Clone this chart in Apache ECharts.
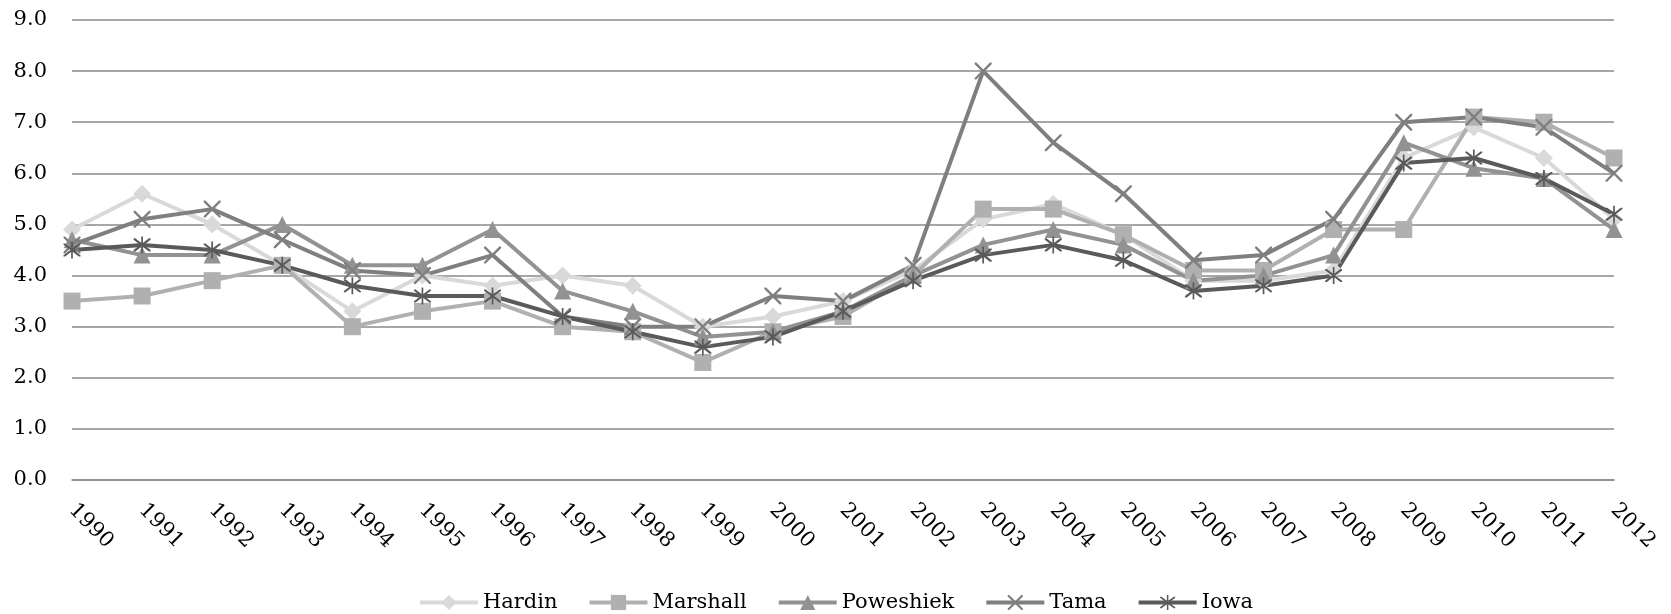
<!DOCTYPE html>
<html><head><meta charset="utf-8">
<script src="https://cdn.jsdelivr.net/npm/echarts@6/dist/echarts.min.js"></script>
<style>html,body{margin:0;padding:0;background:#fff}#c{width:1671px;height:614px}</style>
</head><body><div id="c"></div>
<script>
const years = ['1990','1991','1992','1993','1994','1995','1996','1997','1998','1999','2000','2001','2002','2003','2004','2005','2006','2007','2008','2009','2010','2011','2012'];
const hardin    = [4.9,5.6,5.0,4.2,3.3,4.0,3.8,4.0,3.8,3.0,3.2,3.5,4.1,5.1,5.4,4.8,3.9,3.9,4.1,6.3,6.9,6.3,5.1];
const marshall  = [3.5,3.6,3.9,4.2,3.0,3.3,3.5,3.0,2.9,2.3,2.9,3.2,4.0,5.3,5.3,4.8,4.1,4.1,4.9,4.9,7.1,7.0,6.3];
const poweshiek = [4.7,4.4,4.4,5.0,4.2,4.2,4.9,3.7,3.3,2.8,2.9,3.3,4.0,4.6,4.9,4.6,3.9,4.0,4.4,6.6,6.1,5.9,4.9];
const tama      = [4.6,5.1,5.3,4.7,4.1,4.0,4.4,3.2,3.0,3.0,3.6,3.5,4.2,8.0,6.6,5.6,4.3,4.4,5.1,7.0,7.1,6.9,6.0];
const iowa      = [4.5,4.6,4.5,4.2,3.8,3.6,3.6,3.2,2.9,2.6,2.8,3.3,3.9,4.4,4.6,4.3,3.7,3.8,4.0,6.2,6.3,5.9,5.2];

const FONT = 'DejaVu Serif';
const xPath = 'path://M0,0 L1,0 L10,9 L10,10 L9,10 L0,1 Z M9,0 L10,0 L10,1 L1,10 L0,10 L0,9 Z';
const starPath = 'path://M0,0 L1,0 L10,9 L10,10 L9,10 L0,1 Z M9,0 L10,0 L10,1 L1,10 L0,10 L0,9 Z M4.5,-1.5 L5.5,-1.5 L5.5,11.5 L4.5,11.5 Z';

function mk(name, data, color, symbol, size) {
  return {
    name, type: 'line', data, symbol, symbolSize: size, showAllSymbol: true,
    lineStyle: { color, width: 4 },
    itemStyle: { color },
    emphasis: { disabled: true },
    animation: false
  };
}

const chart = echarts.init(document.getElementById('c'), null, { renderer: 'canvas' });
chart.setOption({
  animation: false,
  backgroundColor: '#fff',
  grid: { left: 72, right: 57, top: 20, bottom: 134, containLabel: false },
  legend: {
    top: 587, left: 'center', itemWidth: 58, itemHeight: 19, itemGap: 30,
    lineStyle: { width: 4 },
    textStyle: { fontFamily: FONT, fontSize: 21, color: '#000' },
    data: ['Hardin','Marshall','Poweshiek','Tama','Iowa']
  },
  xAxis: {
    type: 'category', data: years, boundaryGap: false,
    axisLine: { show: true, lineStyle: { color: '#8a8a8a', width: 1.5 } },
    axisTick: { show: false },
    axisLabel: { rotate: -45, margin: 27, fontFamily: FONT, fontSize: 21, color: '#000' }
  },
  yAxis: {
    type: 'value', min: 0, max: 9, interval: 1,
    axisLine: { show: false }, axisTick: { show: false },
    splitLine: { lineStyle: { color: '#8a8a8a', width: 1.5 } },
    axisLabel: { margin: 25, fontFamily: FONT, fontSize: 21, color: '#000', formatter: v => v.toFixed(1) }
  },
  series: [
    mk('Hardin', hardin, '#d9d9d9', 'diamond', 18),
    mk('Marshall', marshall, '#b0b0b0', 'rect', 17),
    mk('Poweshiek', poweshiek, '#929292', 'triangle', 17),
    mk('Tama', tama, '#7f7f7f', xPath, 17),
    mk('Iowa', iowa, '#5a5a5a', starPath, 17)
  ]
});
</script></body></html>
